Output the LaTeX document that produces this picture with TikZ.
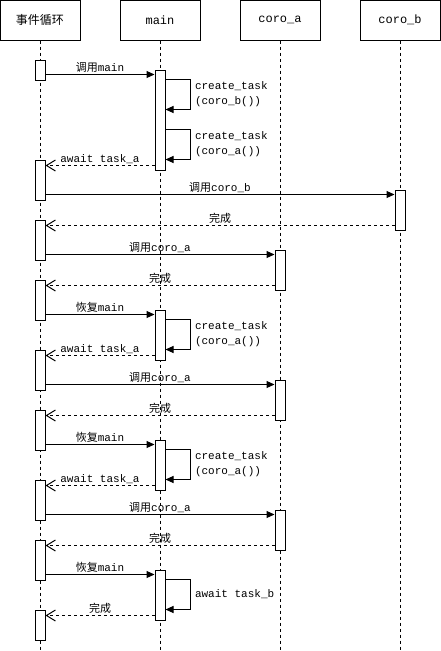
\documentclass[tikz,border=0pt]{standalone}
\usepackage{fontspec}
\setmainfont{Liberation Mono}
\newfontfamily\cjk{Noto Sans CJK SC}
\usetikzlibrary{arrows.meta}

\begin{document}
\begin{tikzpicture}[x=1pt, y=-1pt, line width=1pt,
        font=\fontsize{11pt}{15pt}\selectfont,
        cabecera/.style={draw, minimum width=80pt, minimum height=40pt, inner sep=0pt, font=\fontsize{12pt}{14pt}\selectfont},
        activ/.style={draw, fill=white, minimum width=10pt, inner sep=0pt},
        vida/.style={dash pattern=on 3pt off 3pt},
        llamada/.style={-{Triangle[length=8pt,width=7pt]}},
        retorno/.style={dash pattern=on 3pt off 3pt, -{Straight Barb[length=9pt,width=11pt]}},
        etq/.style={midway, above, inner sep=1.5pt},
        nota/.style={midway, right, align=left, inner sep=4pt}]
        % Marco
        \useasboundingbox (0,0) rectangle (441,651);
        \coordinate (fondo) at (0,651);

        % Cabeceras
        \node[cabecera] (ev) at (40,20) {\cjk 事件循环};
        \node[cabecera] (main) at (160,20) {main};
        \node[cabecera] (ca) at (280,20) {coro\_a};
        \node[cabecera] (cb) at (400,20) {coro\_b};

        % Lineas de vida (punteadas)
        \draw[vida] (ev.south) -- (ev.south |- fondo);
        \draw[vida] (main.south) -- (main.south |- fondo);
        \draw[vida] (ca.south) -- (ca.south |- fondo);
        \draw[vida] (cb.south) -- (cb.south |- fondo);

        % Activaciones del bucle de eventos
        \node[activ, minimum height=20pt] (e1) at (40,70) {};
        \node[activ, minimum height=40pt] (e2) at (40,180) {};
        \node[activ, minimum height=40pt] (e3) at (40,240) {};
        \node[activ, minimum height=40pt] (e4) at (40,300) {};
        \node[activ, minimum height=40pt] (e5) at (40,370) {};
        \node[activ, minimum height=40pt] (e6) at (40,430) {};
        \node[activ, minimum height=40pt] (e7) at (40,500) {};
        \node[activ, minimum height=40pt] (e8) at (40,560) {};
        \node[activ, minimum height=30pt] (e9) at (40,625) {};

        % Activaciones de main, coro_a y coro_b
        \node[activ, minimum height=100pt] (m1) at (160,120) {};
        \node[activ, minimum height=50pt] (m2) at (160,335) {};
        \node[activ, minimum height=50pt] (m3) at (160,465) {};
        \node[activ, minimum height=50pt] (m4) at (160,595) {};
        \node[activ, minimum height=40pt] (a1) at (280,270) {};
        \node[activ, minimum height=40pt] (a2) at (280,400) {};
        \node[activ, minimum height=40pt] (a3) at (280,530) {};
        \node[activ, minimum height=40pt] (b1) at (400,210) {};

        % Primera llamada a main
        \coordinate (p1) at ([yshift=-5pt]m1.north west);
        \draw[llamada] (e1.east |- p1) -- (p1) node[etq] {{\cjk 调用}main};
        \draw[llamada] ([yshift=-10pt]m1.north east) -- ++(25,0) -- ++(0,30) node[nota] {create\_task\\(coro\_b())} -- ++(-25,0);
        \draw[llamada] ([yshift=-60pt]m1.north east) -- ++(25,0) -- ++(0,30) node[nota] {create\_task\\(coro\_a())} -- ++(-25,0);
        \coordinate (r1) at ([yshift=5pt]m1.south west);
        \draw[retorno] (r1) -- (e2.east |- r1) node[etq] {await task\_a};

        % coro_b
        \coordinate (p2) at ([yshift=-5pt]b1.north west);
        \draw[llamada] (e2.east |- p2) -- (p2) node[etq] {{\cjk 调用}coro\_b};
        \coordinate (r2) at ([yshift=5pt]b1.south west);
        \draw[retorno] (r2) -- (e3.east |- r2) node[etq] {\cjk 完成};

        % coro_a (1)
        \coordinate (p3) at ([yshift=-5pt]a1.north west);
        \draw[llamada] (e3.east |- p3) -- (p3) node[etq] {{\cjk 调用}coro\_a};
        \coordinate (r3) at ([yshift=5pt]a1.south west);
        \draw[retorno] (r3) -- (e4.east |- r3) node[etq] {\cjk 完成};

        % Reanudar main (1)
        \coordinate (p4) at ([yshift=-5pt]m2.north west);
        \draw[llamada] (e4.east |- p4) -- (p4) node[etq] {{\cjk 恢复}main};
        \draw[llamada] ([yshift=-10pt]m2.north east) -- ++(25,0) -- ++(0,30) node[nota] {create\_task\\(coro\_a())} -- ++(-25,0);
        \coordinate (r4) at ([yshift=5pt]m2.south west);
        \draw[retorno] (r4) -- (e5.east |- r4) node[etq] {await task\_a};

        % coro_a (2)
        \coordinate (p5) at ([yshift=-5pt]a2.north west);
        \draw[llamada] (e5.east |- p5) -- (p5) node[etq] {{\cjk 调用}coro\_a};
        \coordinate (r5) at ([yshift=5pt]a2.south west);
        \draw[retorno] (r5) -- (e6.east |- r5) node[etq] {\cjk 完成};

        % Reanudar main (2)
        \coordinate (p6) at ([yshift=-5pt]m3.north west);
        \draw[llamada] (e6.east |- p6) -- (p6) node[etq] {{\cjk 恢复}main};
        \draw[llamada] ([yshift=-10pt]m3.north east) -- ++(25,0) -- ++(0,30) node[nota] {create\_task\\(coro\_a())} -- ++(-25,0);
        \coordinate (r6) at ([yshift=5pt]m3.south west);
        \draw[retorno] (r6) -- (e7.east |- r6) node[etq] {await task\_a};

        % coro_a (3)
        \coordinate (p7) at ([yshift=-5pt]a3.north west);
        \draw[llamada] (e7.east |- p7) -- (p7) node[etq] {{\cjk 调用}coro\_a};
        \coordinate (r7) at ([yshift=5pt]a3.south west);
        \draw[retorno] (r7) -- (e8.east |- r7) node[etq] {\cjk 完成};

        % Reanudar main (3)
        \coordinate (p8) at ([yshift=-5pt]m4.north west);
        \draw[llamada] (e8.east |- p8) -- (p8) node[etq] {{\cjk 恢复}main};
        \draw[llamada] ([yshift=-10pt]m4.north east) -- ++(25,0) -- ++(0,30) node[nota] {await task\_b} -- ++(-25,0);
        \coordinate (r8) at ([yshift=5pt]m4.south west);
        \draw[retorno] (r8) -- (e9.east |- r8) node[etq] {\cjk 完成};
    \end{tikzpicture}
\end{document}
